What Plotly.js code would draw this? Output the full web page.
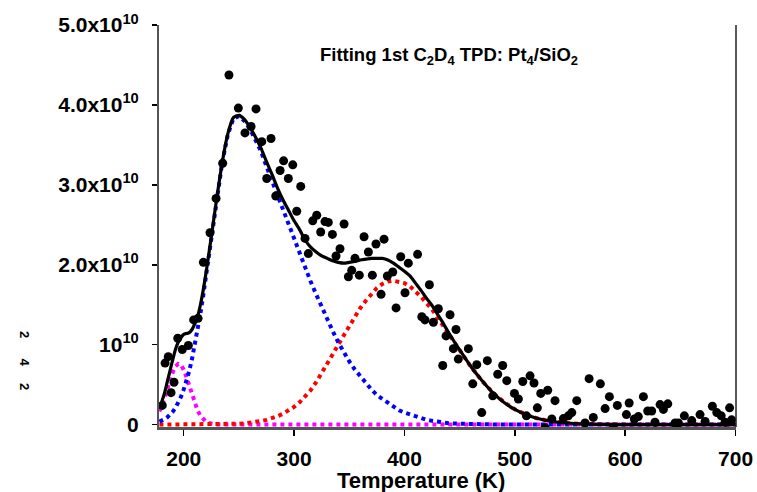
<!DOCTYPE html>
<html>
<head>
<meta charset="utf-8">
<script src="https://cdn.plot.ly/plotly-3.0.1.min.js"></script>
<style>html,body{margin:0;padding:0;background:#fff;}#chart{width:757px;height:492px;}</style>
</head>
<body>
<div id="chart"></div>
<script>
// Measured TPD signal (units of 1e10) vs temperature (K)
const tempK = [180.6,183.1,186.0,188.5,191.2,194.6,198.7,204.2,209.0,213.0,217.8,223.8,229.3,235.3,241.0,249.5,255.5,261.0,265.5,270.7,275.2,279.1,283.4,287.3,290.5,294.8,298.8,302.4,306.0,309.9,312.9,316.9,320.5,324.1,328.0,331.0,334.7,338.0,341.6,345.3,349.2,352.2,355.2,359.1,363.4,367.3,370.9,374.2,378.8,381.5,384.5,389.4,392.4,396.6,400.5,403.5,411.9,415.7,418.6,422.6,426.2,430.7,434.7,437.7,441.3,444.3,446.7,448.8,457.9,461.9,465.5,470.0,475.1,480.0,484.5,489.0,492.7,499.6,503.2,507.2,510.5,513.8,517.4,520.4,523.5,527.4,529.8,533.5,536.4,544.0,548.5,551.6,556.1,563.6,567.3,571.1,577.5,581.8,585.7,589.3,592.9,601.1,603.6,608.3,611.9,616.5,620.4,624.0,627.0,631.6,634.6,638.6,645.2,648.2,653.6,660.3,667.8,672.4,679.0,683.0,687.0,690.5,694.6,696.4];
const signal = [0.24,0.77,0.85,0.40,0.53,1.08,0.94,0.99,1.31,1.33,2.03,2.40,2.83,3.27,4.375,3.96,3.65,3.73,3.95,3.54,3.08,3.58,2.86,3.18,3.30,3.08,3.25,2.67,2.98,2.33,2.14,2.55,2.62,2.41,2.54,2.53,2.38,2.11,2.20,2.51,1.85,1.93,2.08,1.87,2.35,2.16,1.87,2.26,1.63,2.32,1.86,1.91,1.46,2.10,1.65,2.02,2.13,1.35,1.31,1.75,1.28,1.45,0.74,1.11,1.375,0.95,1.19,0.82,0.95,0.51,0.75,0.15,0.80,0.36,0.63,0.74,0.55,0.39,0.32,0.54,0.11,0.61,0.52,0.21,0.39,-0.04,0.43,0.07,0.30,0.075,0.11,0.15,0.30,0.02,0.575,0.09,0.51,0.20,0.35,-0.03,0.24,0.125,0.27,0.07,0.10,0.35,0.17,0.17,0.03,0.25,0.19,0.26,0.02,0.02,0.11,0.05,0.125,0.04,0.23,0.15,0.11,0.03,0.21,0.06];

// Fit curves (units of 1e10) on a common temperature grid
const fitT = [178,180,182.5,185,187.5,190,192.5,195,197.5,200,202.5,205,207.5,210,212.5,215,217.5,220,222.5,225,
  230,235,240,245,250,255,260,265,270,275,280,285,290,295,300,305,310,315,320,325,330,335,340,345,350,355,360,365,370,375,380,385,390,395,400,405,410,415,420,425,430,435,440,445,450,
  460,470,480,490,500,510,520,530,540,550,560,570,580,590,600,650,700];
const peakLow = [0.165,0.229,0.326,0.438,0.552,0.653,0.727,0.76,0.745,0.687,0.595,0.484,0.37,0.266,0.179,0.114,0.068,0.038,0.02,0.01,
  0.002,0.0004,0,0,0,0,0,0,0,0,0,0,0,0,0,0,0,0,0,0,0,0,0,0,0,0,0,0,0,0,0,0,0,0,0,0,0,0,0,0,0,0,0,0,0,
  0,0,0,0,0,0,0,0,0,0,0,0,0,0,0,0,0];
const peakMain = [0.038,0.049,0.067,0.09,0.122,0.16,0.21,0.27,0.347,0.44,0.545,0.67,0.82,0.99,1.17,1.38,1.60,1.84,2.09,2.34,
  2.84,3.29,3.63,3.83,3.86,3.80,3.70,3.57,3.42,3.23,3.05,2.86,2.67,2.50,2.33,2.16,1.96,1.79,1.63,1.47,1.32,1.17,1.03,0.90,0.79,0.69,0.60,0.52,0.44,0.37,0.32,0.27,0.22,0.18,0.15,0.125,0.10,0.08,0.06,0.047,0.035,0.026,0.018,0.013,0.01,
  0.005,0.003,0.002,0.001,0,0,0,0,0,0,0,0,0,0,0,0,0];
const peakHigh = [0,0,0,0,0,0,0,0,0,0,0,0,0,0,0,0,0,0,0,0.001,
  0.002,0.003,0.005,0.008,0.011,0.016,0.023,0.032,0.044,0.059,0.079,0.104,0.136,0.175,0.222,0.279,0.35,0.43,0.53,0.64,0.76,0.88,1.00,1.12,1.24,1.35,1.46,1.55,1.64,1.71,1.76,1.79,1.80,1.79,1.77,1.73,1.67,1.60,1.52,1.44,1.34,1.24,1.13,1.03,0.925,
  0.727,0.552,0.402,0.283,0.192,0.125,0.079,0.048,0.028,0.016,0.009,0.0045,0.002,0.001,0.0005,0,0];
const fitTotal = [0.20,0.28,0.39,0.53,0.67,0.81,0.94,1.03,1.09,1.13,1.14,1.15,1.19,1.26,1.35,1.49,1.67,1.88,2.11,2.35,
  2.84,3.29,3.64,3.84,3.87,3.82,3.72,3.60,3.46,3.29,3.13,2.96,2.81,2.68,2.55,2.44,2.31,2.22,2.16,2.11,2.08,2.05,2.03,2.02,2.03,2.04,2.06,2.07,2.08,2.08,2.08,2.06,2.02,1.97,1.92,1.86,1.77,1.68,1.58,1.49,1.38,1.27,1.15,1.04,0.935,
  0.73,0.555,0.40,0.28,0.19,0.125,0.079,0.048,0.028,0.016,0.009,0.005,0.002,0.001,0.0005,0,0];

const yTickVals = [0,1,2,3,4,5];
const yTickText = ['0','10<sup>10</sup>','2.0x10<sup>10</sup>','3.0x10<sup>10</sup>','4.0x10<sup>10</sup>','5.0x10<sup>10</sup>'];
const xTickVals = [200,300,400,500,600,700];
const sideLabels = ['2','4','2'];

const FONT = 'Liberation Sans, Arial, sans-serif';

const traces = [
  {x: fitT, y: peakLow, type:'scatter', mode:'lines', line:{color:'#ff00ff', width:4, dash:'dot'}, hoverinfo:'skip'},
  {x: fitT, y: peakHigh, type:'scatter', mode:'lines', line:{color:'#ff0000', width:4, dash:'dot'}, hoverinfo:'skip'},
  {x: fitT, y: peakMain, type:'scatter', mode:'lines', line:{color:'#0000ff', width:4, dash:'dot'}, hoverinfo:'skip'},
  {x: fitT, y: fitTotal, type:'scatter', mode:'lines', line:{color:'#000', width:3.2, shape:'spline', smoothing:0.6}, hoverinfo:'skip'},
  {x: tempK, y: signal, type:'scatter', mode:'markers', marker:{color:'#000', size:9}, cliponaxis:true}
];

const sideY = [340, 368, 392];
const annotations = sideLabels.map((t,i)=>({
  text:t, xref:'paper', yref:'paper', x:(15-159)/577, y:(427-sideY[i])/402,
  showarrow:false, textangle:90, font:{family:FONT, size:13, color:'#000', weight:'bold'}
}));
annotations.push({
  text:'Temperature (K)', xref:'paper', yref:'paper', x:(421-159)/577, y:(427-480)/402,
  xanchor:'center', yanchor:'middle', showarrow:false,
  font:{family:FONT, size:22, color:'#000', weight:'bold'}
});

const layout = {
  width:757, height:492,
  margin:{l:159, r:21, t:25, b:65, pad:0},
  paper_bgcolor:'#fff', plot_bgcolor:'#fff',
  showlegend:false,
  title:{text:'Fitting 1st C<sub>2</sub>D<sub>4</sub> TPD: Pt<sub>4</sub>/SiO<sub>2</sub>',
    font:{family:FONT, size:18.5, color:'#000', weight:'bold'},
    xref:'container', yref:'container', x:449/757, y:1-55/492, xanchor:'center', yanchor:'middle'},
  xaxis:{range:[177.6,700.4], tickvals:xTickVals, ticks:'outside', ticklen:6, tickwidth:1.5, tickcolor:'#000',
    showline:true, linecolor:'#555', linewidth:2.5, showgrid:false, zeroline:false,
    tickfont:{family:FONT, size:21, color:'#000', weight:'bold'}, ticklabelstandoff:5},
  yaxis:{range:[-0.03,5.0], tickvals:yTickVals, ticktext:yTickText, ticks:'outside', ticklen:5, tickwidth:1.5, tickcolor:'#000',
    showline:true, linecolor:'#555', linewidth:2, showgrid:false, zeroline:false,
    tickfont:{family:FONT, size:21, color:'#000', weight:'bold'}, ticklabelstandoff:9},
  annotations:annotations,
  shapes:[{type:'line', xref:'paper', yref:'paper', x0:1, x1:1, y0:0, y1:1, line:{color:'#222', width:1.5}}]
};

Plotly.newPlot('chart', traces, layout, {staticPlot:true, displayModeBar:false});
</script>
</body>
</html>
